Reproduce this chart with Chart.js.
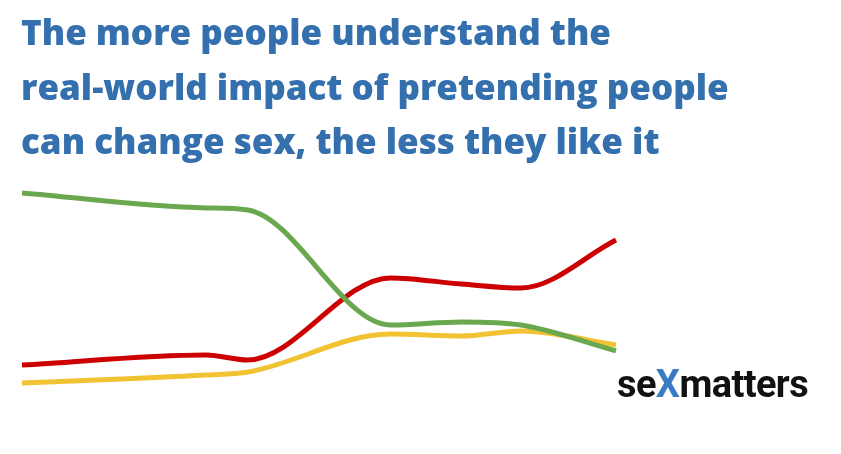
<!DOCTYPE html>
<html>
<head>
<meta charset="utf-8">
<script src="https://cdn.jsdelivr.net/npm/chart.js@4"></script>
<style>
  html, body { margin: 0; padding: 0; background: #fff; }
  #wrap { position: relative; width: 841px; height: 454px; overflow: hidden; }
  #title {
    position: absolute; left: 21px; top: 5px;
    font-family: "Open Sans", sans-serif; font-weight: 800;
    font-size: 35px; line-height: 54.5px; color: #3570ae;
    white-space: nowrap;
  }
  #logo {
    position: absolute; left: 617px; top: 362px;
    font-family: Roboto, sans-serif; font-weight: 700;
    font-size: 38px; line-height: 44px; color: #111; letter-spacing: -0.6px;
  }
  #logo span { color: #3a7cc4; }
  #chart { position: absolute; left: 0; top: 0; }
</style>
</head>
<body>
<div id="wrap">
  <canvas id="chart" width="841" height="454"></canvas>
  <div id="title">The more people understand the<br>real-world impact of pretending people<br>can change sex, the less they like it</div>
  <div id="logo">se<span>X</span>matters</div>
</div>
<script>
  // time along the survey period (0-100) and share of people (%)
  const timeline = [0, 31, 38, 62, 74, 84, 100];
  const greenVals = [94.1, 87.3, 86.4, 34.1, 35.5, 34.1, 22.3];
  const redVals = [15.9, 20.5, 18.2, 55.5, 52.7, 50.9, 72.7];
  const yellowVals = [7.7, 11.4, 12.7, 30.0, 29.1, 31.4, 25.0];

  function pts(vals) {
    return vals.map((v, i) => ({ x: timeline[i], y: v }));
  }

  function line(vals, color) {
    return {
      data: pts(vals),
      borderColor: color,
      borderWidth: 5,
      pointRadius: 0,
      fill: false,
      cubicInterpolationMode: 'monotone'
    };
  }

  new Chart(document.getElementById('chart'), {
    type: 'line',
    data: {
      datasets: [
        line(greenVals, '#6aa84f'),
        line(yellowVals, '#f1c232'),
        line(redVals, '#cc0000')
      ]
    },
    options: {
      responsive: false,
      animation: false,
      clip: false,
      layout: { padding: { left: 22, right: 225, top: 180, bottom: 54 } },
      plugins: { legend: { display: false }, tooltip: { enabled: false } },
      scales: {
        x: { type: 'linear', min: 0, max: 100, display: false },
        y: { min: 0, max: 100, display: false }
      }
    }
  });
</script>
</body>
</html>
